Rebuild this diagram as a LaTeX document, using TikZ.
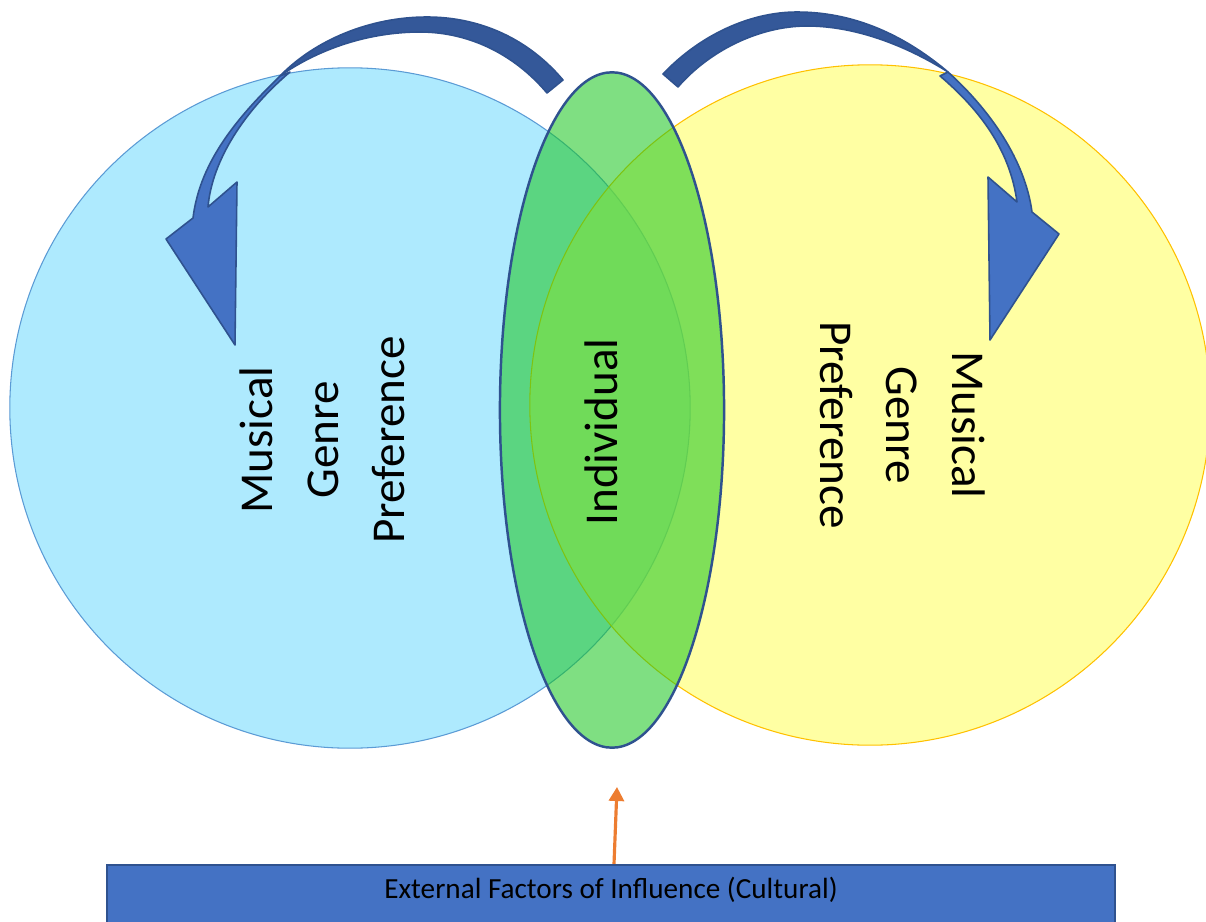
\documentclass[tikz,border=0pt]{standalone}
\usepackage{fontspec}
\setmainfont{Carlito}
\usetikzlibrary{shapes.geometric,arrows.meta}
\definecolor{cyanfill}{RGB}{174,234,254}
\definecolor{cyanline}{RGB}{91,155,213}
\definecolor{yellowfill}{RGB}{255,255,102}
\definecolor{yellowline}{RGB}{255,192,0}
\definecolor{indivfill}{RGB}{26,198,32}
\definecolor{darkline}{RGB}{47,82,143}
\definecolor{arrowblue}{RGB}{68,114,196}
\definecolor{arrowback}{RGB}{52,88,153}
\definecolor{orangeline}{RGB}{237,125,49}
\begin{document}
\begin{tikzpicture}[x=0.01cm, y=-0.01cm,
  genre/.style={align=center, font=\fontsize{13.4}{18.8}\selectfont},
  bentarrow/.style={fill=arrowblue, draw=darkline, line width=0.45pt, line join=round},
  bentback/.style={bentarrow, fill=arrowback}]
\useasboundingbox (0,0) rectangle (1206,921);
\clip (0,0) rectangle (1206,921);

% Circles
\node (left) [circle, minimum size=6.8cm, inner sep=0, fill=cyanfill, draw=cyanline, line width=0.3pt] at (350,408) {};
\node (right) [circle, minimum size=6.8cm, inner sep=0, fill=yellowfill, fill opacity=0.6, draw=yellowline, line width=0.3pt] at (870,405) {};
\node (indiv) [ellipse, minimum width=2.24cm, minimum height=6.75cm, inner sep=0, fill=indivfill, fill opacity=0.56, draw=darkline, line width=0.7pt] at (612,410) {};

% Labels
\node (leftlabel) [genre, rotate=90] at (322,440) {Musical\\Genre\\Preference};
\node (rightlabel) [genre, rotate=-90] at (903,425) {Musical\\Genre\\Preference};
\node (indivlabel) [genre, rotate=90] at (601,432) {Individual};

% Curved arrows: back band, then front part with head
\path[bentback] (563,80) .. controls (525,35) and (475,17) .. (427,17)
  .. controls (370,17) and (315,40) .. (280,76)
  .. controls (320,48) and (370,32) .. (420,32)
  .. controls (470,32) and (515,55) .. (547,93) -- cycle;
\path[bentarrow] (280,76) .. controls (240,115) and (200,160) .. (193,218)
  -- (166,239) -- (235,345) -- (237,182) -- (208,207)
  .. controls (212,160) and (245,110) .. (290,72) -- cycle;
\path[bentback] (663,74) .. controls (700,35) and (750,12) .. (797,12)
  .. controls (860,12) and (910,40) .. (948,72)
  .. controls (905,45) and (855,26) .. (807,26)
  .. controls (760,26) and (710,50) .. (678,87) -- cycle;
\path[bentarrow] (948,72) .. controls (990,110) and (1025,160) .. (1032,212)
  -- (1059,234) -- (990,340) -- (988,177) -- (1017,202)
  .. controls (1010,150) and (980,110) .. (940,76) -- cycle;

% External factors
\node (factors) [rectangle, fill=arrowblue, draw=darkline, line width=0.6pt, minimum width=10.08cm, minimum height=0.8cm, inner sep=0, text height=0.2cm, text depth=0.34cm, font=\fontsize{8.3}{10}\selectfont] at (611,905) {External Factors of Influence (Cultural)};
\coordinate (push) at (617,787);
\draw[-{Triangle[width=0.15cm,length=0.14cm]}, draw=orangeline, fill=orangeline, line width=0.9pt] ([xshift=0.03cm]factors.north) -- (push);

\end{tikzpicture}
\end{document}
